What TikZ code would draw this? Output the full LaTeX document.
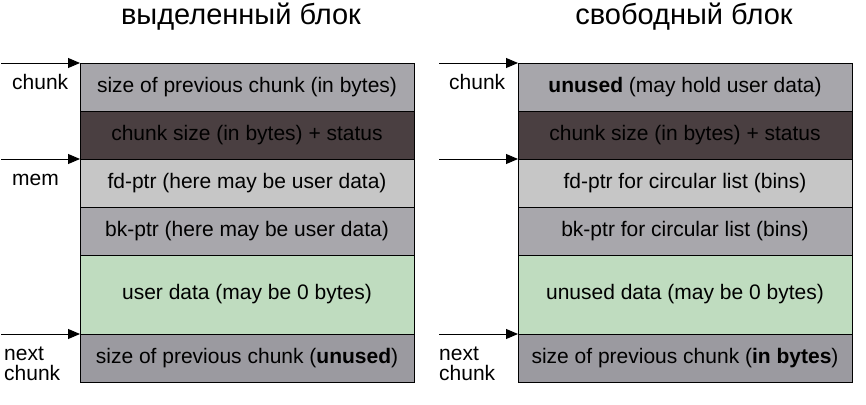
\documentclass[tikz,border=0pt]{standalone}
\usepackage{fontspec}
\setmainfont{Liberation Sans}
\usetikzlibrary{calc,positioning,arrows.meta}

\definecolor{prevgray}{HTML}{A7A6AB}
\definecolor{nextgray}{HTML}{9B9AA0}
\definecolor{sizebrown}{HTML}{4A3F41}
\definecolor{fdgray}{HTML}{C6C6C6}
\definecolor{bkgray}{HTML}{A8A7AC}
\definecolor{datagreen}{HTML}{BFDCBF}

\begin{document}
\begin{tikzpicture}[
  x=1pt,y=-1pt,
  cell/.style={rectangle,draw=black,line width=.8pt,minimum width=334pt,minimum height=48pt,
    inner sep=0pt,outer sep=0pt,font=\fontsize{21}{23}\selectfont},
  ptr/.style={-{Triangle[length=12pt,width=10pt]},line width=.9pt},
  lbl/.style={anchor=base west,inner sep=0pt,align=left,font=\fontsize{21}{20}\selectfont},
  ]
\useasboundingbox (0,0) rectangle (866,404);

% titles
\node (title_0) at (241,17) {\fontsize{29}{30}\selectfont выделенный блок};
\node (title_1) at (684,17) {\fontsize{29}{30}\selectfont свободный блок};

\foreach \g/\xx/\ttop/\tfd/\tbk/\tdata/\tnext in {
  0/80/{size of previous chunk (in bytes)}/{fd-ptr (here may be user data)}/{bk-ptr (here may be user data)}/{user data (may be 0 bytes)}/{size of previous chunk (\textbf{unused})},
  1/518/{\textbf{unused} (may hold user data)}/{fd-ptr for circular list (bins)}/{bk-ptr for circular list (bins)}/{unused data (may be 0 bytes)}/{size of previous chunk (\textbf{in bytes})}}
{
  \node (row_0_\g) [cell,fill=prevgray,anchor=north west] at (\xx,63) {\ttop};
  \node (row_1_\g) [cell,fill=sizebrown,below=0pt of row_0_\g] {chunk size (in bytes) + status};
  \node (row_2_\g) [cell,fill=fdgray,below=0pt of row_1_\g] {\tfd};
  \node (row_3_\g) [cell,fill=bkgray,below=0pt of row_2_\g] {\tbk};
  \node (row_4_\g) [cell,fill=datagreen,minimum height=79pt,below=0pt of row_3_\g] {\tdata};
  \node (row_5_\g) [cell,fill=nextgray,below=0pt of row_4_\g] {\tnext};

  % pointers into the chunk
  \foreach \r in {0,2,5}
  {
    \coordinate (src_\r_\g) at ($(row_\r_\g.north west)+(-79,0)$);
    \draw [ptr] (src_\r_\g) -- (row_\r_\g.north west);
  }
}

% pointer names
\node (lbl_chunk_0) [lbl] at ($(src_0_0)+(11,26)$) {chunk};
\node (lbl_mem_0) [lbl] at ($(src_2_0)+(11,26)$) {mem};
\node (lbl_next_0) [lbl] at ($(src_5_0)+(3,46)$) {next\\chunk};
\node (lbl_chunk_1) [lbl] at ($(src_0_1)+(10,26)$) {chunk};
\node (lbl_next_1) [lbl] at ($(src_5_1)+(0,46)$) {next\\chunk};

\end{tikzpicture}
\end{document}
